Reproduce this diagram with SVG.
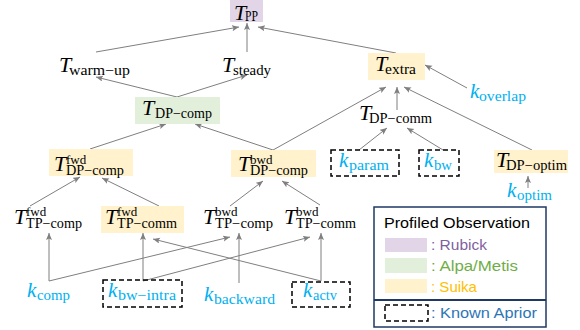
<svg xmlns="http://www.w3.org/2000/svg" width="580" height="330" viewBox="0 0 580 330">
<style>
.T{font-family:"Liberation Serif",serif;font-style:italic;font-size:22px;fill:#000}
.s{font-family:"Liberation Serif",serif;font-size:14px;fill:#000}
.sup{font-family:"Liberation Serif",serif;font-size:13px;fill:#000}
.k{font-family:"Liberation Serif",serif;font-style:italic;font-size:21px;fill:#00b0f0}
.ks{font-family:"Liberation Serif",serif;font-size:14px;fill:#00b0f0}
.pp{fill:#e1d5e7}
.gr{fill:#e2efda}
.or{fill:#fff2cc}
.dash{fill:none;stroke:#000;stroke-width:1.5;stroke-dasharray:5 3}
.cn line{stroke:#7f7f7f;stroke-width:1;marker-end:url(#ah)}
.lg{font-family:"Liberation Sans",Arial,sans-serif;font-size:14.5px}
</style>
<defs>
<marker id="ah" markerUnits="userSpaceOnUse" markerWidth="8" markerHeight="7" refX="7" refY="3" orient="auto">
<path d="M0,0 L7,3 L0,6 L1.5,3 z" fill="#7f7f7f"/>
</marker>
</defs>

<g id="connectors" class="cn">
<line x1="96" y1="52" x2="239" y2="27"/>
<line x1="247" y1="52" x2="247" y2="23"/>
<line x1="396" y1="53" x2="258" y2="27"/>
<line x1="177" y1="97" x2="96" y2="77"/>
<line x1="177" y1="97" x2="247" y2="75"/>
<line x1="90" y1="149" x2="166" y2="124"/>
<line x1="273" y1="150" x2="195" y2="124"/>
<line x1="273" y1="150" x2="386" y2="87"/>
<line x1="397" y1="110" x2="397" y2="87"/>
<line x1="532" y1="150" x2="404" y2="87"/>
<line x1="467" y1="88" x2="425" y2="65"/>
<line x1="359" y1="150" x2="387" y2="128"/>
<line x1="443" y1="150" x2="407" y2="128"/>
<line x1="528" y1="188" x2="528" y2="176"/>
<line x1="30" y1="206" x2="80" y2="177"/>
<line x1="159" y1="206" x2="102" y2="178"/>
<line x1="230" y1="206" x2="263" y2="181"/>
<line x1="320" y1="205" x2="282" y2="181"/>
<line x1="49" y1="281" x2="49" y2="233"/>
<line x1="49" y1="281" x2="230" y2="237"/>
<line x1="143" y1="281" x2="143" y2="233"/>
<line x1="143" y1="281" x2="310" y2="237"/>
<line x1="239" y1="283" x2="239" y2="233"/>
<line x1="321" y1="281" x2="321" y2="233"/>
<line x1="321" y1="281" x2="153" y2="239"/>
</g>

<g id="T_PP">
<rect class="pp" x="230" y="0" width="33" height="22"/>
<text class="T" x="234" y="20">T</text>
<text class="s" x="245" y="21" textLength="13" lengthAdjust="spacingAndGlyphs">PP</text>
</g>

<g id="T_warmup">
<text class="T" x="59" y="72">T</text>
<text class="s" x="69" y="75" textLength="61" lengthAdjust="spacingAndGlyphs">warm−up</text>
</g>

<g id="T_steady">
<text class="T" x="222" y="72">T</text>
<text class="s" x="233" y="75" textLength="38" lengthAdjust="spacingAndGlyphs">steady</text>
</g>

<g id="T_extra">
<rect class="or" x="368" y="53" width="57" height="27"/>
<text class="T" x="375" y="71">T</text>
<text class="s" x="385" y="74" textLength="31" lengthAdjust="spacingAndGlyphs">extra</text>
</g>

<g id="k_overlap">
<text class="k" x="470" y="98">k</text>
<text class="ks" x="479" y="101" textLength="47" lengthAdjust="spacingAndGlyphs">overlap</text>
</g>

<g id="T_DPcomp">
<rect class="gr" x="135" y="97" width="85" height="27"/>
<text class="T" x="142" y="115">T</text>
<text class="s" x="155" y="118" textLength="57" lengthAdjust="spacingAndGlyphs">DP−comp</text>
</g>

<g id="T_DPcomm">
<text class="T" x="359" y="120">T</text>
<text class="s" x="369" y="123" textLength="63" lengthAdjust="spacingAndGlyphs">DP−comm</text>
</g>

<g id="T_DPcomp_fwd">
<rect class="or" x="49" y="149" width="84" height="27"/>
<text class="T" x="54" y="171">T</text>
<text class="sup" x="66" y="164">fwd</text>
<text class="s" x="66" y="175" textLength="58" lengthAdjust="spacingAndGlyphs">DP−comp</text>
</g>

<g id="T_DPcomp_bwd">
<rect class="or" x="231" y="150" width="85" height="27"/>
<text class="T" x="238" y="171">T</text>
<text class="sup" x="250" y="164">bwd</text>
<text class="s" x="250" y="175" textLength="58" lengthAdjust="spacingAndGlyphs">DP−comp</text>
</g>

<g id="k_param">
<rect class="dash" x="331" y="150" width="68" height="26"/>
<text class="k" x="339" y="167">k</text>
<text class="ks" x="349" y="170" textLength="40" lengthAdjust="spacingAndGlyphs">param</text>
</g>

<g id="k_bw">
<rect class="dash" x="419" y="150" width="40" height="26"/>
<text class="k" x="424" y="167">k</text>
<text class="ks" x="434" y="170" textLength="18" lengthAdjust="spacingAndGlyphs">bw</text>
</g>

<g id="T_DPoptim">
<rect class="or" x="494" y="150" width="74" height="23"/>
<text class="T" x="496" y="167">T</text>
<text class="s" x="506" y="170" textLength="61" lengthAdjust="spacingAndGlyphs">DP−optim</text>
</g>

<g id="k_optim">
<text class="k" x="507" y="197">k</text>
<text class="ks" x="517" y="200" textLength="35" lengthAdjust="spacingAndGlyphs">optim</text>
</g>

<g id="T_TPcomp_fwd">
<text class="T" x="14" y="224">T</text>
<text class="sup" x="26" y="216">fwd</text>
<text class="s" x="26" y="228" textLength="56" lengthAdjust="spacingAndGlyphs">TP−comp</text>
</g>

<g id="T_TPcomm_fwd">
<rect class="or" x="101" y="206" width="83" height="27"/>
<text class="T" x="105" y="224">T</text>
<text class="sup" x="117" y="216">fwd</text>
<text class="s" x="117" y="228" textLength="60" lengthAdjust="spacingAndGlyphs">TP−comm</text>
</g>

<g id="T_TPcomp_bwd">
<text class="T" x="203" y="224">T</text>
<text class="sup" x="215" y="216">bwd</text>
<text class="s" x="215" y="228" textLength="58" lengthAdjust="spacingAndGlyphs">TP−comp</text>
</g>

<g id="T_TPcomm_bwd">
<text class="T" x="284" y="224">T</text>
<text class="sup" x="296" y="216">bwd</text>
<text class="s" x="296" y="228" textLength="60" lengthAdjust="spacingAndGlyphs">TP−comm</text>
</g>

<g id="k_comp">
<text class="k" x="27" y="297">k</text>
<text class="ks" x="37" y="300" textLength="33" lengthAdjust="spacingAndGlyphs">comp</text>
</g>

<g id="k_bwintra">
<rect class="dash" x="103" y="280" width="79" height="27"/>
<text class="k" x="108" y="297">k</text>
<text class="ks" x="118" y="300" textLength="58" lengthAdjust="spacingAndGlyphs">bw−intra</text>
</g>

<g id="k_backward">
<text class="k" x="204" y="301">k</text>
<text class="ks" x="214" y="304" textLength="61" lengthAdjust="spacingAndGlyphs">backward</text>
</g>

<g id="k_actv">
<rect class="dash" x="292" y="282" width="58" height="25"/>
<text class="k" x="303" y="297">k</text>
<text class="ks" x="313" y="300" textLength="24" lengthAdjust="spacingAndGlyphs">actv</text>
</g>

<g id="legend">
<rect x="374" y="207" width="172" height="120" fill="#fff" stroke="#1f3864" stroke-width="1.5"/>
<line x1="374" y1="300" x2="546" y2="300" stroke="#1f3864" stroke-width="1.8"/>
<text class="lg" x="384" y="228" fill="#000" textLength="146" lengthAdjust="spacingAndGlyphs">Profiled Observation</text>
<rect class="pp" x="385" y="238" width="42" height="14"/>
<text class="lg" x="431" y="250" fill="#7f5fa0" textLength="56" lengthAdjust="spacingAndGlyphs">: Rubick</text>
<rect class="gr" x="385" y="258" width="42" height="15"/>
<text class="lg" x="431" y="271" fill="#70ad47" textLength="87" lengthAdjust="spacingAndGlyphs">: Alpa/Metis</text>
<rect class="or" x="385" y="279" width="42" height="14"/>
<text class="lg" x="431" y="292" fill="#ffc000" textLength="46" lengthAdjust="spacingAndGlyphs">: Suika</text>
<rect class="dash" x="385" y="305" width="43" height="16"/>
<text class="lg" x="431" y="318" fill="#2e75b6" textLength="106" lengthAdjust="spacingAndGlyphs">: Known Aprior</text>
</g>
</svg>
